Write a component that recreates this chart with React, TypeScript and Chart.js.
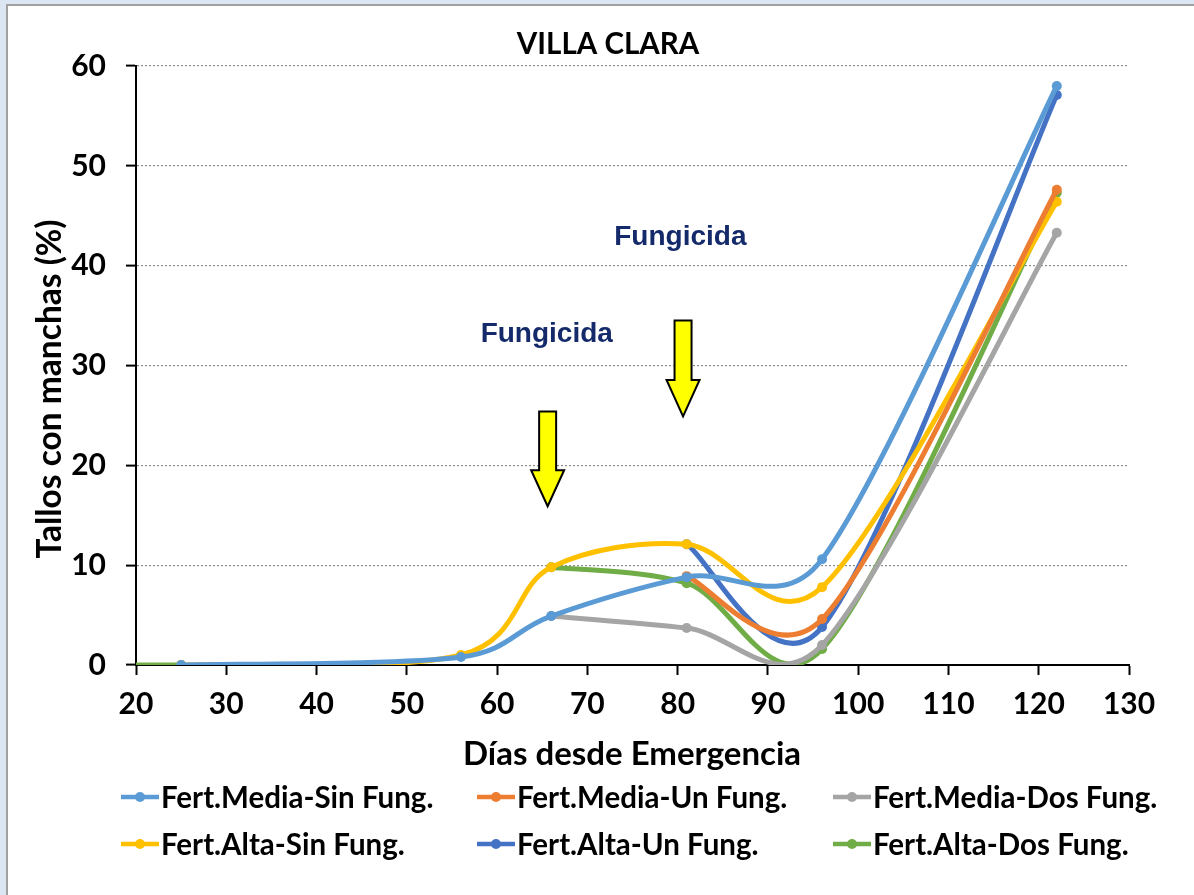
import React, { useEffect, useRef } from "react";
import { Chart, registerables } from "chart.js";

Chart.register(...registerables);

// ---------- data ----------
const days = [0, 25, 56, 66, 81, 96, 122];
const mediaSin = [null, 0, 0.8, 4.9, 8.8, 10.6, 58.0];
const mediaUn = [null, null, null, null, 8.9, 4.6, 47.6];
const mediaDos = [null, null, null, 4.9, 3.7, 2.0, 43.3];
const altaSin = [null, 0, 1.0, 9.8, 12.1, 7.8, 46.4];
const altaUn = [null, null, null, null, 12.1, 3.8, 57.1];
const altaDos = [0, 0, null, 9.8, 8.2, 1.6, 47.3];

const seriesNames = [
  "Fert.Media-Sin Fung.",
  "Fert.Media-Un Fung.",
  "Fert.Media-Dos Fung.",
  "Fert.Alta-Sin Fung.",
  "Fert.Alta-Un Fung.",
  "Fert.Alta-Dos Fung.",
];
const seriesValues = [mediaSin, mediaUn, mediaDos, altaSin, altaUn, altaDos];
const seriesColors = ["#5B9BD5", "#ED7D31", "#A5A5A5", "#FFC000", "#4472C4", "#70AD47"];

const title = "VILLA CLARA";
const xTitle = "Días desde Emergencia";
const yTitle = "Tallos con manchas (%)";

// fungicide annotations (data coordinates)
const arrowX = [65.6, 80.6];
const arrowTop = [25.4, 34.5];
const arrowTip = [15.9, 24.9];
const noteText = ["Fungicida", "Fungicida"];
const noteX = [65.5, 80.3];
const noteY = [33.1, 42.8];

const FONT = "Lato, 'Noto Sans', sans-serif";

// Excel-like smoothing: Bezier control points along (next - prev),
// factor 1/6, limited to half of the adjacent segment length.
const excelSmooth = {
  id: "excelSmooth",
  beforeDatasetsDraw(chart: any) {
    chart.data.datasets.forEach((_ds: any, di: number) => {
      const meta = chart.getDatasetMeta(di);
      const pts = meta.data || [];
      const runs: any[][] = [];
      let cur: any[] = [];
      pts.forEach((p: any) => {
        if (p.skip) {
          if (cur.length) runs.push(cur);
          cur = [];
        } else cur.push(p);
      });
      if (cur.length) runs.push(cur);
      runs.forEach((run) => {
        const n = run.length;
        for (let i = 0; i < n; i++) {
          const p = run[i];
          const prev = run[Math.max(i - 1, 0)];
          const next = run[Math.min(i + 1, n - 1)];
          const tx = next.x - prev.x;
          const ty = next.y - prev.y;
          const tl = Math.hypot(tx, ty) || 1;
          const dPrev = Math.hypot(p.x - prev.x, p.y - prev.y);
          const dNext = Math.hypot(next.x - p.x, next.y - p.y);
          const fIn = Math.min(1 / 6, dPrev / (2 * tl));
          const fOut = Math.min(1 / 6, dNext / (2 * tl));
          p.cp1x = p.x - tx * fIn;
          p.cp1y = p.y - ty * fIn;
          p.cp2x = p.x + tx * fOut;
          p.cp2y = p.y + ty * fOut;
        }
      });
      if (meta.dataset) {
        meta.dataset._pointsUpdated = true;
        meta.dataset._path = undefined;
      }
    });
  },
};

const overlayPlugin = {
  id: "overlay",
  afterDraw(chart: any) {
    const { ctx, scales } = chart;
    const xs = scales.x;
    const ys = scales.y;
    ctx.save();

    // Title
    ctx.fillStyle = "#000";
    ctx.textAlign = "center";
    ctx.textBaseline = "middle";
    ctx.font = `bold 29.5px ${FONT}`;
    ctx.fillText(title, 608, 44);

    // Axis titles
    ctx.font = `bold 33px ${FONT}`;
    ctx.fillText(xTitle, 632, 754);
    ctx.save();
    ctx.translate(50, 389);
    ctx.rotate(-Math.PI / 2);
    ctx.font = `bold 33.5px ${FONT}`;
    ctx.fillText(yTitle, 0, 0);
    ctx.restore();

    // Arrows
    for (let i = 0; i < arrowX.length; i++) {
      const cx = xs.getPixelForValue(arrowX[i]);
      const top = ys.getPixelForValue(arrowTop[i]);
      const tip = ys.getPixelForValue(arrowTip[i]);
      const headLen = (tip - top) * 0.38;
      const sw = 8.5;
      const hw = 16.5;
      ctx.beginPath();
      ctx.moveTo(cx - sw, top);
      ctx.lineTo(cx + sw, top);
      ctx.lineTo(cx + sw, tip - headLen);
      ctx.lineTo(cx + hw, tip - headLen);
      ctx.lineTo(cx, tip);
      ctx.lineTo(cx - hw, tip - headLen);
      ctx.lineTo(cx - sw, tip - headLen);
      ctx.closePath();
      ctx.fillStyle = "#FFFF00";
      ctx.fill();
      ctx.lineWidth = 2;
      ctx.strokeStyle = "#000";
      ctx.lineJoin = "miter";
      ctx.stroke();
    }

    // Notes
    ctx.fillStyle = "#142A6A";
    ctx.font = `bold 28px 'Liberation Sans', Arial, sans-serif`;
    ctx.textAlign = "center";
    ctx.textBaseline = "middle";
    for (let i = 0; i < noteText.length; i++) {
      ctx.fillText(noteText[i], xs.getPixelForValue(noteX[i]), ys.getPixelForValue(noteY[i]));
    }

    // Legend
    const cols = [121, 477, 833];
    const rows = [797, 844];
    ctx.font = `bold 29.5px ${FONT}`;
    ctx.textAlign = "left";
    ctx.textBaseline = "middle";
    for (let i = 0; i < seriesNames.length; i++) {
      const lx = cols[i % 3];
      const ly = rows[Math.floor(i / 3)];
      ctx.strokeStyle = seriesColors[i];
      ctx.lineWidth = 4.5;
      ctx.lineCap = "butt";
      ctx.beginPath();
      ctx.moveTo(lx, ly);
      ctx.lineTo(lx + 38, ly);
      ctx.stroke();
      ctx.fillStyle = seriesColors[i];
      ctx.beginPath();
      ctx.arc(lx + 19, ly, 5, 0, Math.PI * 2);
      ctx.fill();
      ctx.fillStyle = "#000";
      ctx.fillText(seriesNames[i], lx + 40, ly + 1);
    }
    ctx.restore();
  },
};

export default function App() {
  const canvasRef = useRef<HTMLCanvasElement | null>(null);

  useEffect(() => {
    if (!canvasRef.current) return;
    const datasets = seriesValues.map((vals, i) => ({
      label: seriesNames[i],
      data: days.map((d, j) => ({ x: d, y: vals[j] })),
      borderColor: seriesColors[i],
      backgroundColor: seriesColors[i],
      pointBackgroundColor: seriesColors[i],
      pointBorderWidth: 0,
      pointRadius: 5,
      borderWidth: 5,
      tension: 0.4,
      spanGaps: false,
      fill: false,
    }));

    const chart = new Chart(canvasRef.current, {
      type: "line",
      data: { datasets },
      options: {
        animation: false,
        responsive: false,
        maintainAspectRatio: false,
        layout: { padding: { top: 66, right: 65, left: 0, bottom: 0 } },
        plugins: {
          legend: { display: false },
          title: { display: false },
          tooltip: { enabled: false },
        },
        scales: {
          x: {
            type: "linear",
            min: 20,
            max: 130,
            ticks: {
              stepSize: 10,
              color: "#000",
              font: { family: FONT, size: 30, weight: "bold" },
              padding: 11,
              maxRotation: 0,
            },
            grid: {
              drawOnChartArea: false,
              drawTicks: true,
              tickLength: 10,
              tickColor: "#000",
              tickWidth: 2,
            },
            border: { display: true, color: "#000", width: 2 },
            afterFit: (s: any) => {
              s.height = 895 - 665;
            },
          },
          y: {
            type: "linear",
            min: 0,
            max: 60,
            ticks: {
              stepSize: 10,
              color: "#000",
              font: { family: FONT, size: 30, weight: "bold" },
              padding: 20,
            },
            grid: {
              color: "#8C8C8C",
              lineWidth: 1.2,
              drawTicks: true,
              tickLength: 10,
              tickColor: "#000",
              tickWidth: 2,
            },
            border: { display: true, color: "#000", width: 2, dash: [2, 2] },
            afterFit: (s: any) => {
              s.width = 136;
            },
          },
        },
      },
      plugins: [excelSmooth, overlayPlugin],
    });
    return () => chart.destroy();
  }, []);

  return (
    <div
      style={{
        position: "fixed",
        left: 0,
        top: 0,
        width: 1194,
        height: 895,
        background: "#DCE6F2",
        overflow: "hidden",
      }}
    >
      <div
        style={{
          position: "absolute",
          left: 6,
          top: 4,
          width: 1210,
          height: 910,
          border: "2px solid #A0A0A0",
          background: "#FFFFFF",
        }}
      />
      <canvas
        ref={canvasRef}
        width={1194}
        height={895}
        style={{ position: "absolute", left: 0, top: 0, width: 1194, height: 895 }}
      />
    </div>
  );
}
